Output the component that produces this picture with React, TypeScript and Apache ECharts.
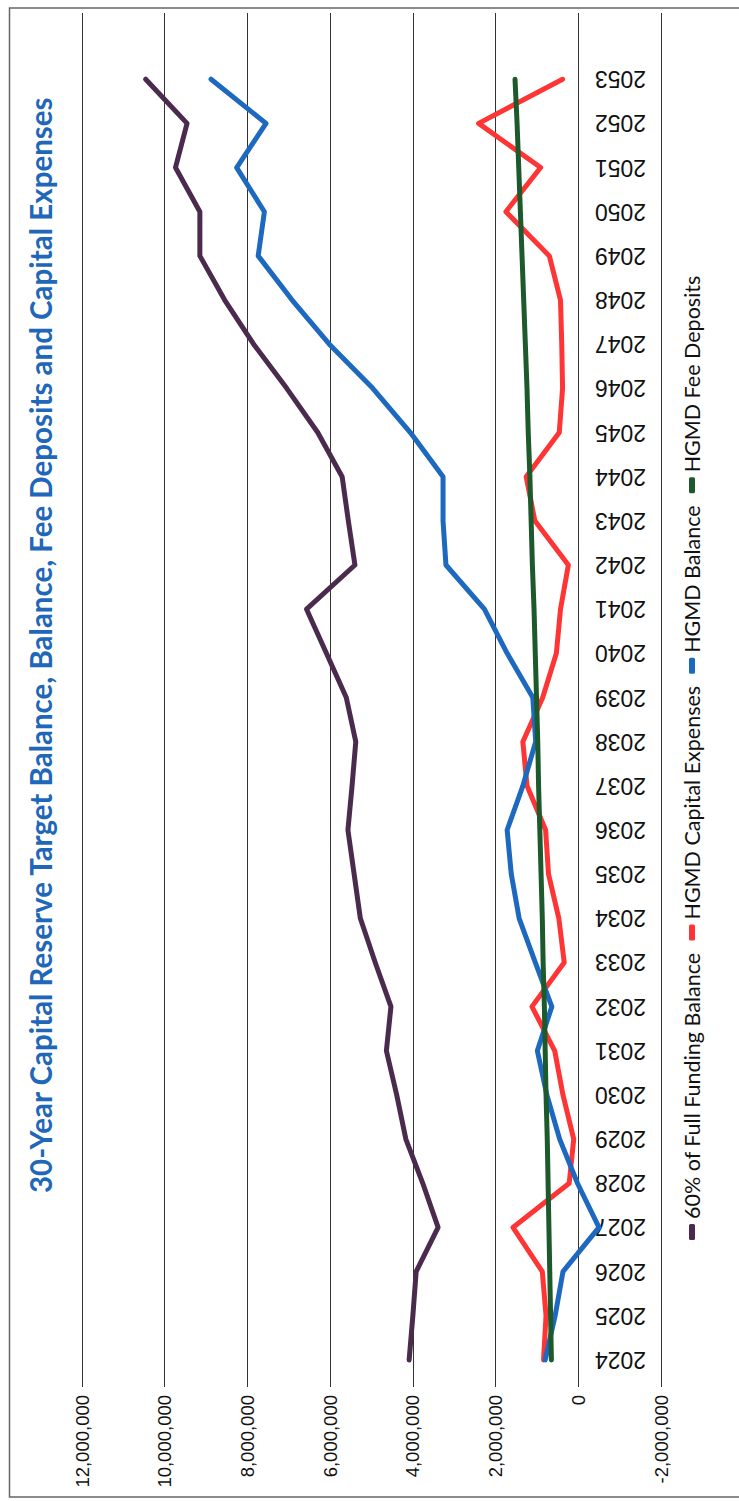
import React, { useEffect, useRef } from 'react';
import * as echarts from 'echarts';

// Chart drawn in its own (landscape) orientation, then the page turns it a quarter turn,
// as in the scanned reference.
const years = [
  '2024', '2025', '2026', '2027', '2028', '2029', '2030', '2031', '2032', '2033',
  '2034', '2035', '2036', '2037', '2038', '2039', '2040', '2041', '2042', '2043',
  '2044', '2045', '2046', '2047', '2048', '2049', '2050', '2051', '2052', '2053',
];

const fullFunding60 = [
  4090000, 4000000, 3920000, 3390000, 3760000, 4170000, 4390000, 4640000, 4530000, 4910000,
  5270000, 5420000, 5570000, 5470000, 5380000, 5610000, 6090000, 6570000, 5400000, 5560000,
  5710000, 6300000, 7050000, 7850000, 8550000, 9150000, 9150000, 9740000, 9460000, 10460000,
];

const capitalExpenses = [
  840000, 780000, 870000, 1580000, 220000, 110000, 370000, 570000, 1120000, 340000,
  470000, 720000, 790000, 1240000, 1340000, 860000, 530000, 430000, 240000, 1050000,
  1260000, 460000, 380000, 400000, 430000, 700000, 1750000, 910000, 2410000, 380000,
];

const hgmdBalance = [
  800000, 560000, 370000, -500000, 20000, 450000, 760000, 990000, 640000, 1040000,
  1430000, 1620000, 1720000, 1340000, 1030000, 1100000, 1720000, 2270000, 3200000, 3270000,
  3270000, 4060000, 4970000, 6020000, 6920000, 7740000, 7590000, 8260000, 7550000, 8880000,
];

const feeDeposits = [
  650000, 670000, 690000, 710000, 730000, 750000, 780000, 800000, 820000, 850000,
  870000, 900000, 930000, 960000, 980000, 1010000, 1040000, 1070000, 1110000, 1140000,
  1170000, 1210000, 1240000, 1280000, 1320000, 1360000, 1400000, 1440000, 1480000, 1530000,
];

const seriesNames = [
  '60% of Full Funding Balance',
  'HGMD Capital Expenses',
  'HGMD Balance',
  'HGMD Fee Deposits',
];

const valueMin = -2000000;
const valueMax = 12000000;
const valueStep = 2000000;

const titleText =
  '30-Year Capital Reserve Target Balance, Balance, Fee Deposits and Capital Expenses';

const W = 1501;
const H = 739;

export default function App() {
  const ref = useRef<HTMLDivElement>(null);

  useEffect(() => {
    if (!ref.current) return;
    const chart = echarts.init(ref.current, null, { renderer: 'svg', width: W, height: H });
    const colors = ['#4B2B4D', '#FF3535', '#1D69BF', '#1D5A2B'];
    const dataSets = [fullFunding60, capitalExpenses, hgmdBalance, feeDeposits];

    chart.setOption({
      animation: false,
      backgroundColor: '#ffffff',
      title: {
        text: titleText,
        left: 303,
        top: 20,
        textStyle: {
          fontFamily: 'Lato',
          fontWeight: 'bold',
          fontSize: 29.5,
          color: '#1F67B8',
        },
      },
      legend: {
        data: seriesNames,
        left: 256,
        top: 676,
        icon: 'roundRect',
        itemWidth: 16,
        itemHeight: 6,
        itemGap: 12,
        textStyle: { fontFamily: 'Lato', fontSize: 21.5, color: '#111' },
      },
      grid: { left: 119, top: 82, width: 1369, height: 579, containLabel: false },
      xAxis: {
        type: 'category',
        data: years,
        max: years.length,
        boundaryGap: true,
        axisLine: { show: false, onZero: false },
        axisTick: { show: false },
        splitLine: { show: false },
        axisLabel: {
          inside: true,
          rotate: 90,
          margin: 15,
          interval: 0,
          fontFamily: 'Liberation Sans',
          fontSize: 23,
          color: '#111',
        },
      },
      yAxis: {
        type: 'value',
        min: valueMin,
        max: valueMax,
        interval: valueStep,
        axisLine: { show: false },
        axisTick: { show: true, length: 5, lineStyle: { color: '#333', width: 1 } },
        splitLine: { show: true, lineStyle: { color: '#333', width: 1 } },
        axisLabel: {
          margin: 13,
          fontFamily: 'Liberation Sans',
          fontSize: 18.5,
          color: '#111',
          formatter: (v: number) => v.toLocaleString('en-US'),
        },
      },
      series: seriesNames.map((name, i) => ({
        name,
        type: 'line',
        data: dataSets[i],
        symbol: 'none',
        smooth: false,
        itemStyle: { color: colors[i] },
        lineStyle: { color: colors[i], width: 5, cap: 'round', join: 'round' },
        z: 2 + i,
      })),
      graphic: [
        {
          type: 'rect',
          silent: true,
          z: -1,
          shape: { x: 4, y: 9.5, width: 1489, height: 800 },
          style: { fill: 'none', stroke: '#666', lineWidth: 1.5 },
        },
      ],
    });

    return () => chart.dispose();
  }, []);

  return (
    <div
      style={{
        position: 'absolute',
        left: 0,
        top: 0,
        width: H,
        height: W,
        overflow: 'hidden',
        background: '#fff',
      }}
    >
      <div
        ref={ref}
        style={{
          position: 'absolute',
          left: 0,
          top: 0,
          width: W,
          height: H,
          transformOrigin: '0 0',
          transform: `translate(0px, ${W}px) rotate(-90deg)`,
        }}
      />
    </div>
  );
}
